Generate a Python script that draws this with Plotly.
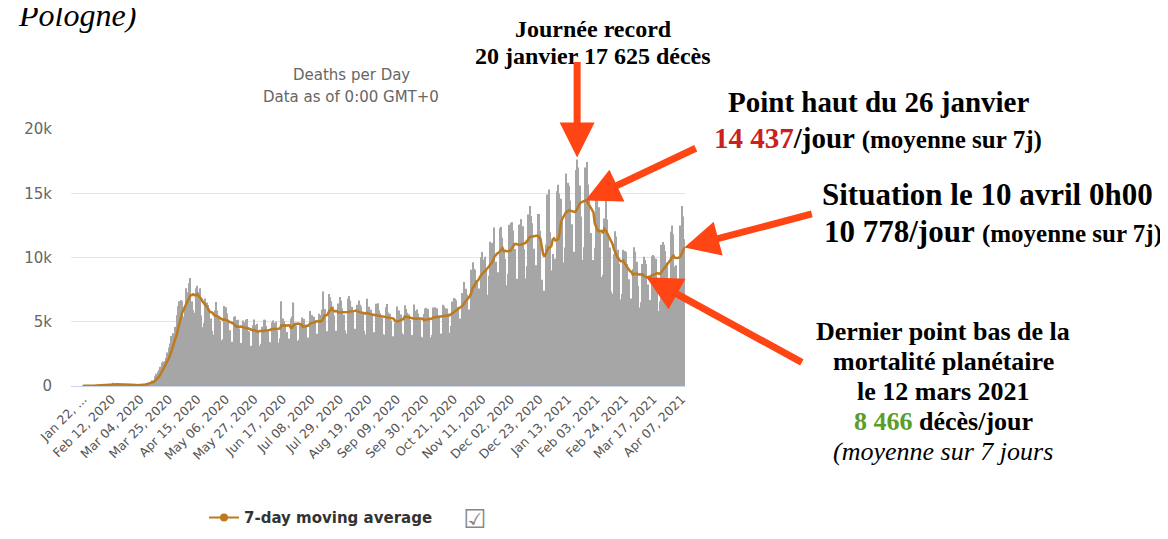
import pandas as pd
import plotly.graph_objects as go

# daily deaths worldwide, 22 Jan 2020 -> 9 Apr 2021
jan_2020 = [17, 8, 16, 14, 26, 49, 2, 38, 42, 46]
feb_2020 = [46, 45, 57, 64, 66, 73, 73, 86, 89, 97, 108, 97, 254, 121, 143, 142, 106, 98, 139, 115,
            125, 25, 152, 151, 71, 64, 38, 57, 64]
mar_2020 = [70, 53, 80, 98, 106, 103, 104, 229, 196, 272, 321, 358, 450, 426, 750, 950, 1100, 1250, 1500,
            1800, 1900, 1950, 2200, 2600, 3000, 3300, 3900, 4100, 3900, 4600, 5500]
apr_2020 = [6200, 6600, 6700, 6600, 5400, 6200, 7600, 7300, 8000, 8400, 6600, 5900, 5700, 7600, 7800,
            7300, 7600, 5480, 4570, 4900, 6800, 6500, 6300, 6000, 5260, 4300, 4000, 5870, 6530, 5870]
may_2020 = [5470, 5080, 3560, 3640, 6220, 6120, 5650, 5170, 4330, 3420, 3450, 5360, 5420, 5140, 5160,
            4480, 3340, 3340, 5090, 4970, 5150, 5210, 4270, 2830, 3130, 4720, 5170, 4740, 4840, 4190, 3130]
jun_2020 = [3280, 4620, 5150, 5150, 4660, 4250, 3430, 3390, 4960, 5100, 4900, 5000, 4300, 3390, 3710,
            6600, 5250, 5050, 4740, 4200, 3480, 3690, 5230, 5400, 6500, 4940, 4680, 3530, 3600, 4900]
jul_2020 = [5330, 5230, 5210, 4790, 3680, 3770, 5830, 5520, 5510, 5380, 5130, 4070, 3930, 5620, 5520,
            5930, 7360, 5990, 4160, 4260, 7150, 6900, 6590, 6190, 5490, 4290, 4140, 6420, 6920, 6630, 6050]
aug_2020 = [5540, 4320, 4080, 6800, 7000, 6650, 6170, 5770, 4460, 4250, 6330, 6660, 6320, 6180, 5660,
            4300, 4020, 6790, 6180, 6150, 5940, 5530, 4190, 3950, 6400, 6440, 5870, 5660, 5330, 4030, 4000]
sep_2020 = [6120, 6390, 5730, 5620, 5100, 3880, 3670, 4930, 6180, 5850, 5870, 5560, 4110, 4020, 6290,
            6000, 5710, 5590, 5130, 3970, 3950, 6350, 5850, 5960, 5640, 5240, 3830, 3780, 5600, 6040]
oct_2020 = [6080, 5990, 5330, 3780, 3970, 6110, 6120, 5930, 6060, 5470, 4040, 4080, 6330, 6200, 6050,
            6040, 5670, 4140, 4690, 6580, 6840, 6790, 6670, 6150, 4800, 5250, 7230, 7110, 8100, 7560, 7130]
nov_2020 = [5950, 5900, 9050, 9630, 9130, 9040, 8250, 6480, 7590, 10010, 10420, 9840, 10060, 9030, 7100,
            8580, 11230, 11130, 11150, 12340, 9670, 8070, 8860, 12280, 12390, 11550, 10600, 9890, 7840, 8740]
dec_2020 = [12550, 12700, 12750, 12110, 10670, 7870, 8340, 12550, 12560, 12990, 12440, 10650, 8370, 9340,
            13350, 14000, 13220, 12660, 10680, 8560, 9390, 13380, 13380, 12080, 8260, 6620, 7420, 11020,
            14900, 15300, 11970]
jan_2021 = [8990, 10270, 7990, 9910, 15160, 15670, 14980, 14570, 12750, 9610, 10780, 16540, 15820, 15590,
            14440, 12590, 9390, 10450, 16800, 17625, 17000, 15600, 13200, 9800, 10800, 17000, 17440, 15690,
            14600, 11900, 8320]
feb_2021 = [9800, 10750, 15180, 14450, 13920, 11900, 8480, 8650, 13040, 14400, 12960, 11880, 10780, 7350,
            7170, 10260, 12040, 11630, 10600, 9510, 6740, 7160, 10600, 10500, 10400, 9500, 8300, 6100]
mar_2021 = [6800, 9100, 10800, 10450, 9660, 7800, 6100, 6520, 9500, 10050, 9800, 9500, 7900, 6200, 6700,
            10100, 10200, 10100, 9900, 8320, 5830, 6580, 11000, 11200, 11000, 10500, 9600, 7000, 7600,
            12000, 12500]
apr_2021 = [11800, 9300, 9400, 7130, 7800, 12500, 14000, 13200, 11416]

deaths = (jan_2020 + feb_2020 + mar_2020 + apr_2020 + may_2020 + jun_2020 + jul_2020 + aug_2020
          + sep_2020 + oct_2020 + nov_2020 + dec_2020 + jan_2021 + feb_2021 + mar_2021 + apr_2021)

tick_labels = ["Jan 22, ...", "Feb 12, 2020", "Mar 04, 2020", "Mar 25, 2020", "Apr 15, 2020",
               "May 06, 2020", "May 27, 2020", "Jun 17, 2020", "Jul 08, 2020", "Jul 29, 2020",
               "Aug 19, 2020", "Sep 09, 2020", "Sep 30, 2020", "Oct 21, 2020", "Nov 11, 2020",
               "Dec 02, 2020", "Dec 23, 2020", "Jan 13, 2021", "Feb 03, 2021", "Feb 24, 2021",
               "Mar 17, 2021", "Apr 07, 2021"]
y_ticks = [0, 5000, 10000, 15000, 20000]
y_labels = ["0", "5k", "10k", "15k", "20k"]

dates = pd.date_range("2020-01-22", periods=len(deaths), freq="D")
idx = list(range(len(deaths)))
avg7 = pd.Series(deaths).rolling(7, min_periods=1).mean()

# plot area in pixels
L, R, T, B = 63, 677, 121, 388
def px(x):
    return (x - L) / (R - L)
def py(y):
    return (B - y) / (B - T)

LINE = "#bd7a1f"
ARROW = "#ff4514"
SERIF = "Liberation Serif"

fig = go.Figure()
fig.add_trace(go.Bar(x=idx, y=deaths, marker=dict(color="#a6a6a6", line_width=0),
                     showlegend=False, hovertext=[d.strftime("%b %d, %Y") for d in dates]))
fig.add_trace(go.Scatter(x=idx, y=avg7, mode="lines", line=dict(color=LINE, width=2.5),
                         showlegend=False))
fig.add_trace(go.Scatter(x=[None], y=[None], mode="lines+markers", name="7-day moving average",
                         line=dict(color=LINE, width=2), marker=dict(size=8, color=LINE)))

fig.update_layout(
    width=1168, height=539,
    margin=dict(l=L, r=1168 - R, t=T, b=539 - B),
    paper_bgcolor="white", plot_bgcolor="white",
    bargap=0.15,
    font=dict(family="DejaVu Sans", color="#666666"),
    legend=dict(orientation="h", x=px(196), xanchor="left", y=py(525), yanchor="middle",
                font=dict(family="DejaVu Sans", size=15, color="#333333", weight="bold"),
                itemwidth=30),
    xaxis=dict(range=[-9, len(deaths) - 0.5], tickvals=idx[::21], ticktext=tick_labels,
               tickangle=-45, tickfont=dict(size=12.5, color="#555555"), showgrid=False,
               showline=True, linecolor="#ccd6eb", linewidth=1, ticks="", zeroline=False),
    yaxis=dict(range=[0, 20000], tickvals=y_ticks, ticktext=y_labels, gridcolor="#e6e6e6",
               tickfont=dict(size=15, color="#666666"), zeroline=False, ticks="",
               ticklabelstandoff=18),
)

def note(text, x, y, size, color="black", anchor="center", family=SERIF):
    fig.add_annotation(text=text, x=px(x), y=py(y), xref="paper", yref="paper",
                       xanchor=anchor, yanchor="middle", showarrow=False,
                       font=dict(family=family, size=size, color=color))

note("<i>Pologne)</i>", 8, 3, 32, anchor="left")
note("Deaths per Day", 343, 65, 15, color="#666666", family="DejaVu Sans")
note("Data as of 0:00 GMT+0", 343, 88, 15, color="#666666", family="DejaVu Sans")

note("<b>Journée record</b>", 585, 17, 24)
note("<b>20 janvier 17 625 décès</b>", 585, 45, 24)
note("<b>Point haut du 26 janvier</b>", 870, 93, 29)
note("<b><span style='color:#c9211e'>14 437</span>/jour "
     "<span style='font-size:25px'>(moyenne sur 7j)</span></b>", 870, 130, 29)
note("<b>Situation le 10 avril 0h00</b>", 812, 189, 31, anchor="left")
note("<b>10 778/jour <span style='font-size:25px'>(moyenne sur 7j)</span></b>", 814, 228, 31,
     anchor="left")
note("<b>Dernier point bas de la</b>", 935, 331, 26)
note("<b>mortalité planétaire</b>", 935, 363, 26)
note("<b>le 12 mars 2021</b>", 935, 394, 26)
note("<b><span style='color:#5a9e2a'>8 466</span> décès/jour</b>", 935, 425, 26)
note("<i>(moyenne sur 7 jours</i>", 935, 456, 26)

note("☑", 466, 526, 26, color="#888888", family="DejaVu Sans")

# arrows pointing at the record day, the 7-day peak, the last value and the March low
rec = max(idx, key=lambda i: deaths[i])
peak = int(avg7.idxmax())
low = int(avg7[400:].idxmin())
last = idx[-1]
arrows = [(rec, deaths[rec] + 150, 0, -97),
          (peak, avg7[peak], 112, -53),
          (last, avg7[last], 129, -34),
          (low, avg7[low], 157, 86)]
for ax_i, ay_v, dx, dy in arrows:
    fig.add_annotation(x=ax_i, y=ay_v, xref="x", yref="y", ax=dx, ay=dy, text="",
                       showarrow=True, arrowhead=2, arrowsize=1.0, arrowwidth=7,
                       arrowcolor=ARROW)

fig.write_html("out.html")
